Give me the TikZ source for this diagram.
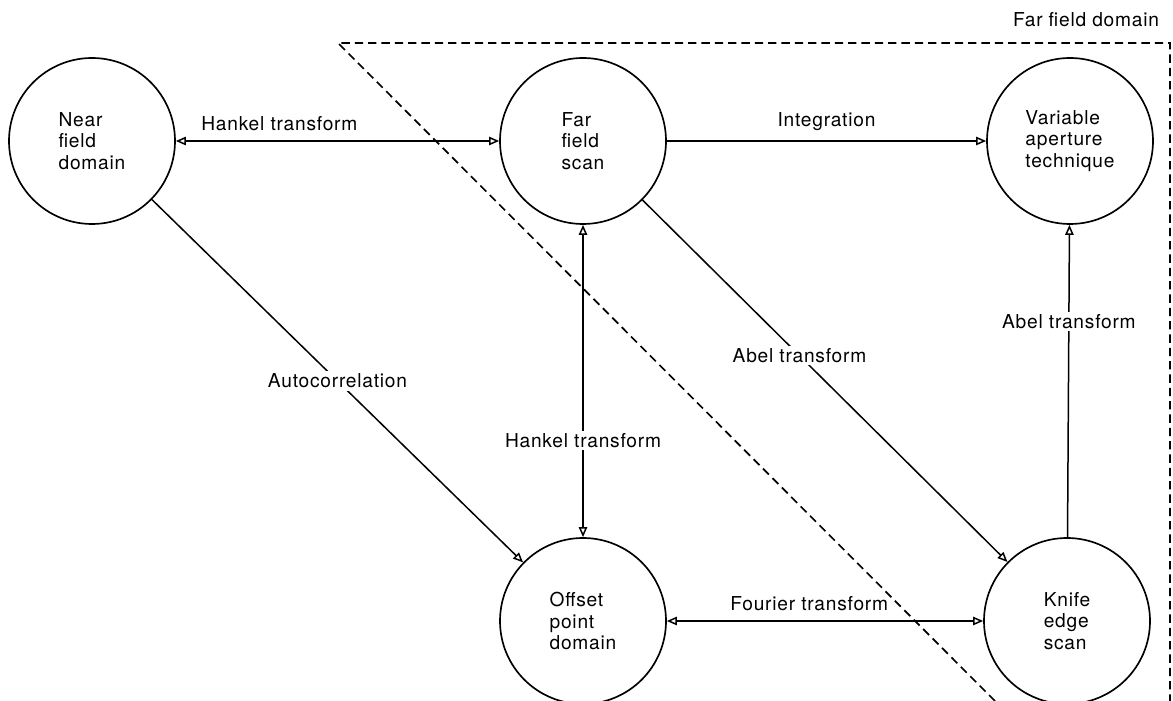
\documentclass[tikz,border=0pt]{standalone}
\usepackage{fontspec}
\setmainfont{TeX Gyre Heros}[LetterSpace=4]
\usetikzlibrary{arrows.meta}

\begin{document}
\begin{tikzpicture}[x=0.6pt,y=-0.6pt,
  state/.style={draw, circle, line width=1pt, minimum size=99.6pt, inner sep=0pt, align=left, font=\fontsize{11.5}{13}\selectfont},
  link/.style={line width=0.9pt, >={Triangle[open,length=6pt,width=5pt]}},
  lbl/.style={font=\fontsize{11.5}{13}\selectfont, fill=white, inner sep=1.5pt},
  domainline/.style={dash pattern=on 5pt off 3pt, line width=1pt}]
\useasboundingbox (0,0) rectangle (1173,701);
% far field region
\draw[domainline] (995,701) -- (338,43) -- (1170,43) -- (1170,701);
\node[font=\fontsize{11.5}{13}\selectfont] (farlbl) at (1086,20) {Far field domain};
% states
\node[state] (near) at (92,141) {Near\\field\\domain};
\node[state] (far) at (583,141) {Far\\field\\scan};
\node[state] (var) at (1070,141) {Variable\\aperture\\technique};
\node[state] (off) at (583,621) {Offset\\point\\domain};
\node[state] (knife) at (1067,621) {Knife\\edge\\scan};
% transforms
\draw[link,<->] (near) -- (far) node[lbl, pos=0.32, above=4pt, fill=none] {Hankel transform};
\draw[link,->] (far) -- (var) node[lbl, midway, above=4pt, fill=none] {Integration};
\draw[link,->] (near) -- (off) node[lbl, midway] {Autocorrelation};
\draw[link,<->] (far) -- (off) node[lbl, pos=0.69] {Hankel transform};
\draw[link,->] (far) -- (knife) node[lbl, pos=0.43] {Abel transform};
\draw[link,->] (knife) -- (var) node[lbl, pos=0.69] {Abel transform};
\draw[link,<->] (off) -- (knife) node[lbl, pos=0.45, above=4pt, fill=none] {Fourier transform};
\end{tikzpicture}
\end{document}
